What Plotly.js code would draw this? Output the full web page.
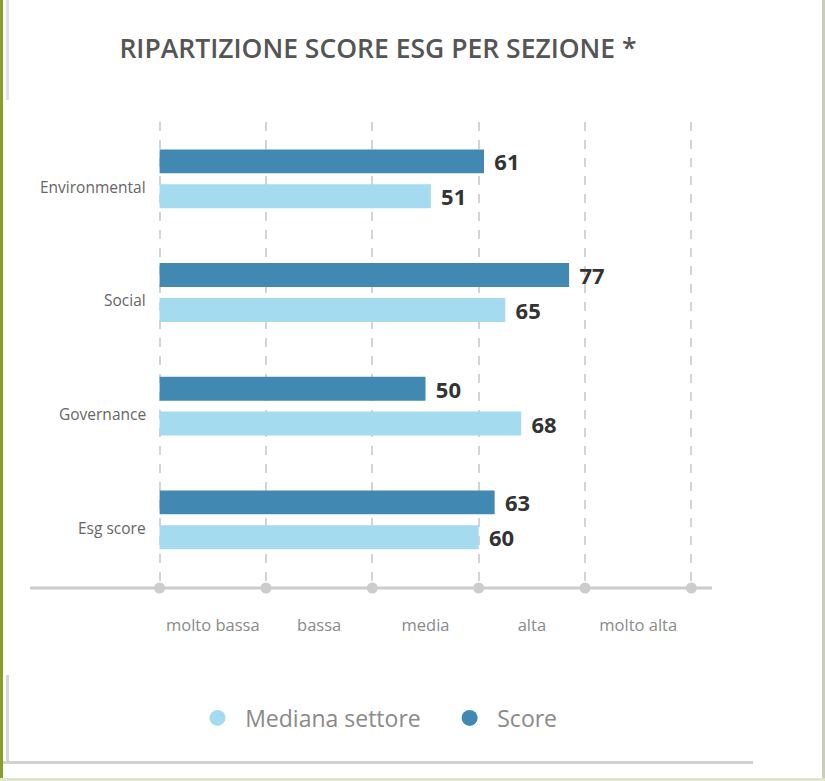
<!DOCTYPE html>
<html>
<head>
<meta charset="utf-8">
<script src="https://cdn.plot.ly/plotly-3.0.1.min.js"></script>
<style>
  html, body { margin: 0; padding: 0; background: #ffffff; }
  #wrap { position: relative; width: 825px; height: 781px; overflow: hidden; }
  #chart { position: absolute; left: 0; top: 0; width: 825px; height: 781px; }
  .deco { position: absolute; pointer-events: none; }
</style>
</head>
<body>
<div id="wrap">
  <div id="chart"></div>
  <div class="deco" style="left:0;top:0;width:3px;height:781px;background:#8a9e2c;"></div>
  <div class="deco" style="left:6px;top:0;width:3px;height:100px;background:#e2e2e2;"></div>
  <div class="deco" style="left:6px;top:675px;width:3px;height:89px;background:#d6d6d6;"></div>
  <div class="deco" style="left:3px;top:761px;width:750px;height:3px;background:#d2d2d2;"></div>
  <div class="deco" style="left:822px;top:0;width:3px;height:781px;background:#c9cdb9;"></div>
  <div class="deco" style="left:0;top:778px;width:825px;height:3px;background:#dfe6cc;"></div>
</div>
<script>
const categories = ["Environmental", "Social", "Governance", "Esg score"];
const scoreValues = [61, 77, 50, 63];
const medianaValues = [51, 65, 68, 60];
const seriesNames = ["Score", "Mediana settore"];
const levelTickVals = [10, 30, 50, 70, 90];
const levelTickText = ["molto bassa", "bassa", "media", "alta", "molto alta"];
const gridVals = [0, 20, 40, 60, 80, 100];

const colScore = "#4189b3";
const colMediana = "#a4dbef";

const valueFont = { family: "Open Sans", size: 22, color: "#333333", weight: 700 };

const traces = [
  {
    type: "bar", orientation: "h", name: seriesNames[0],
    y: categories, x: scoreValues,
    marker: { color: colScore },
    text: scoreValues.map(String), texttemplate: "\u2009\u2009%{text}", textposition: "outside",
    constraintext: "none",
    textfont: valueFont, cliponaxis: false, showlegend: false, hoverinfo: "x+y"
  },
  {
    type: "bar", orientation: "h", name: seriesNames[1],
    y: categories, x: medianaValues,
    marker: { color: colMediana },
    text: medianaValues.map(String), texttemplate: "\u2009\u2009%{text}", textposition: "outside",
    constraintext: "none",
    textfont: valueFont, cliponaxis: false, showlegend: false, hoverinfo: "x+y"
  },
  {
    type: "scatter", mode: "markers", x: gridVals, y: gridVals.map(() => 0),
    yaxis: "y2", marker: { color: "#cccccc", size: 11 },
    cliponaxis: false, showlegend: false, hoverinfo: "skip"
  },
  {
    type: "scatter", mode: "markers", name: "\u2009\u2009" + seriesNames[1] + "\u00a0\u00a0\u00a0\u00a0", x: [null], y: [null],
    marker: { color: colMediana, size: 18, symbol: "circle" }, showlegend: true
  },
  {
    type: "scatter", mode: "markers", name: "\u2009\u2009" + seriesNames[0], x: [null], y: [null],
    marker: { color: colScore, size: 18, symbol: "circle" }, showlegend: true
  }
];

const annotations = categories.map(c => ({
  xref: "paper", yref: "y", x: 0, y: c, xanchor: "right", yanchor: "middle",
  xshift: -10, yshift: -8, showarrow: false, text: c,
  font: { family: "Open Sans", size: 15.5, color: "#666666" }
}));

const layout = {
  width: 825, height: 781,
  margin: { l: 158, r: 132, t: 121.5, b: 193 },
  paper_bgcolor: "rgba(0,0,0,0)", plot_bgcolor: "rgba(0,0,0,0)",
  title: {
    text: "RIPARTIZIONE SCORE ESG PER SEZIONE *",
    x: 0.4582, xref: "container", xanchor: "center",
    y: 0.937, yref: "container", yanchor: "middle",
    font: { family: "Open Sans", size: 26.5, color: "#555555", weight: 600 }
  },
  barmode: "group", bargap: 0.386, bargroupgap: 0.314,
  xaxis: {
    range: [-0.3, 100.3], showgrid: false, zeroline: false, showline: false,
    tickvals: levelTickVals, ticktext: levelTickText, ticks: "",
    ticklabelstandoff: 25,
    tickfont: { family: "Open Sans", size: 16.5, color: "#8a8a8a" },
    minor: { tick0: 0, dtick: 20, showgrid: true, gridcolor: "#d4d4d4", gridwidth: 2, griddash: "dash", ticks: "" }
  },
  yaxis: {
    type: "category", categoryorder: "array", categoryarray: categories,
    range: [3.6, -0.5], showgrid: false, zeroline: false, showline: false,
    showticklabels: false, ticks: ""
  },
  yaxis2: { overlaying: "y", range: [0, 1], visible: false, fixedrange: true },
  shapes: [
    { type: "line", xref: "paper", yref: "paper", x0: -0.239, x1: 1.0355, y0: 0, y1: 0,
      line: { color: "#cccccc", width: 3 }, layer: "below" }
  ],
  annotations: annotations,
  showlegend: true,
  legend: {
    orientation: "h", x: 0.415, xanchor: "center", y: -0.279, yanchor: "middle",
    font: { family: "Open Sans", size: 23, color: "#8a8a8a" },
    itemclick: false, itemdoubleclick: false
  }
};

Plotly.newPlot("chart", traces, layout, { displayModeBar: false, staticPlot: true });
</script>
</body>
</html>
